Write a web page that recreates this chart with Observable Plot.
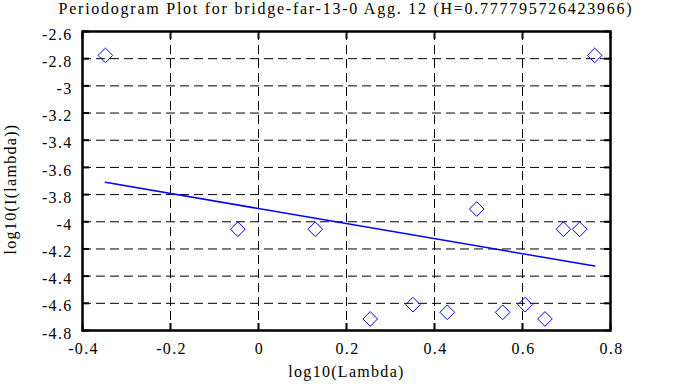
<!DOCTYPE html>
<html><head><meta charset="utf-8">
<script src="https://cdn.jsdelivr.net/npm/d3@7"></script>
<script src="https://cdn.jsdelivr.net/npm/@observablehq/plot@0.6"></script>
<style>
body{margin:0;background:#fff;}
#title{width:692px;height:20px;line-height:17px;text-align:center;font-family:"Liberation Serif",serif;font-size:16px;letter-spacing:1.75px;color:#000;white-space:nowrap;}
</style>
</head><body>
<div id="title">Periodogram Plot for bridge-far-13-0 Agg. 12 (H=0.777795726423966)</div>
<div id="chart"></div>
<script>
const logLambda = [-0.348, -0.047, 0.129, 0.254, 0.351, 0.429, 0.496, 0.555, 0.606, 0.651, 0.693, 0.730, 0.764];
const logI      = [-2.776, -4.055, -4.055, -4.715, -4.610, -4.666, -3.906, -4.666, -4.610, -4.715, -4.055, -4.055, -2.776];
const fitX = [-0.348, 0.764];
const fitY = [-3.710, -4.326];
const xTicks = [-0.4, -0.2, 0, 0.2, 0.4, 0.6, 0.8];
const yTicks = [-2.6, -2.8, -3, -3.2, -3.4, -3.6, -3.8, -4, -4.2, -4.4, -4.6, -4.8];

const points = logLambda.map((x, i) => ({x, y: logI[i]}));
const fit = fitX.map((x, i) => ({x, y: fitY[i]}));
const fmt = d => String(d);

const chart = Plot.plot({
  width: 683,
  height: 367,
  marginTop: 11,
  marginBottom: 57,
  marginLeft: 82,
  marginRight: 73,
  style: {fontFamily: "Liberation Serif, serif", fontSize: "16px", letterSpacing: "1.3px", color: "#000", background: "#fff"},
  x: {domain: [-0.4, 0.8], ticks: xTicks, tickFormat: fmt},
  y: {domain: [-4.8, -2.6], ticks: yTicks, tickFormat: fmt},
  marks: [
    Plot.gridX(xTicks, {stroke: "#000", strokeOpacity: 1, strokeDasharray: "9,5", strokeWidth: 1}),
    Plot.gridY(yTicks, {stroke: "#000", strokeOpacity: 1, strokeDasharray: "9,5", strokeWidth: 1}),
    Plot.axisX(xTicks, {anchor: "bottom", tickSize: 0, tickPadding: 12, tickFormat: fmt, label: null, fontSize: 16, dx: 1}),
    Plot.axisX(xTicks, {anchor: "bottom", tickSize: -7, text: null, label: null, strokeWidth: 2}),
    Plot.axisX(xTicks, {anchor: "top", tickSize: -7, text: null, label: null, strokeWidth: 2}),
    Plot.axisY(yTicks, {anchor: "left", tickSize: 0, tickPadding: 10, tickFormat: fmt, label: null, fontSize: 16, dy: 3}),
    Plot.axisY(yTicks, {anchor: "left", tickSize: -7, text: null, label: null, strokeWidth: 2}),
    Plot.axisY(yTicks, {anchor: "right", tickSize: -7, text: null, label: null, strokeWidth: 2}),
    Plot.text(["log10(Lambda)"], {frameAnchor: "bottom", dy: 41, text: d => d, fontSize: 16, lineAnchor: "middle", textAnchor: "middle"}),
    Plot.text(["log10(I(lambda))"], {frameAnchor: "left", dx: -72, dy: 8, rotate: -90, text: d => d, fontSize: 16, lineAnchor: "middle", textAnchor: "middle"}),
    Plot.line(fit, {x: "x", y: "y", stroke: "#0000ff", strokeWidth: 1.5}),
    Plot.dot(points, {x: "x", y: "y", symbol: "diamond2", r: 6.6, stroke: "#0000ff", fill: "none", strokeWidth: 1}),
    Plot.frame({stroke: "#000", strokeWidth: 2.5})
  ]
});
document.getElementById("chart").appendChild(chart);
</script>
</body></html>
